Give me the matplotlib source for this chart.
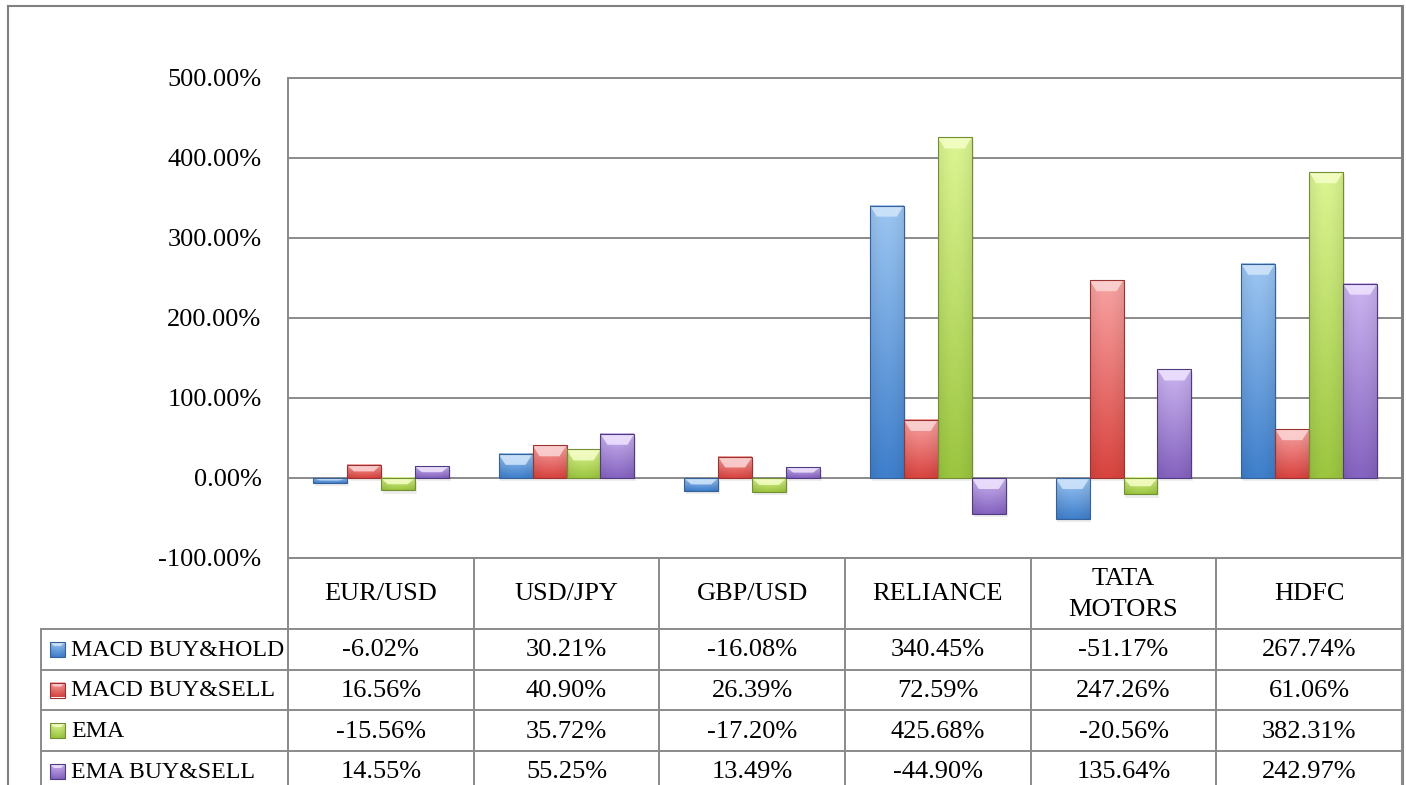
import matplotlib
matplotlib.use('Agg')
import matplotlib.pyplot as plt
import numpy as np
from matplotlib.patches import Polygon

# data
categories = ['EUR/USD', 'USD/JPY', 'GBP/USD', 'RELIANCE', 'TATA\nMOTORS', 'HDFC']
series_names = ['MACD BUY&HOLD', 'MACD BUY&SELL', 'EMA', 'EMA BUY&SELL']
macd_buy_hold = [-6.02, 30.21, -16.08, 340.45, -51.17, 267.74]
macd_buy_sell = [16.56, 40.90, 26.39, 72.59, 247.26, 61.06]
ema = [-15.56, 35.72, -17.20, 425.68, -20.56, 382.31]
ema_buy_sell = [14.55, 55.25, 13.49, -44.90, 135.64, 242.97]
yticks = [-100, 0, 100, 200, 300, 400, 500]

series = [macd_buy_hold, macd_buy_sell, ema, ema_buy_sell]

# (bevel, light, dark, edge)
colors = [
    ('#d2e6fb', '#9cc6f2', '#3f7fcc', '#35609a'),
    ('#fcd6d6', '#f8a3a3', '#d9443f', '#9a3230'),
    ('#f6ffc8', '#dcf592', '#9cc640', '#718f30'),
    ('#efe4ff', '#cbb4f0', '#8563c0', '#4f3c80'),
]

FONT = 'Liberation Serif'
W, H = 1406, 785
GRID = '#8a8a8a'


def hex2rgb(h):
    return np.array([int(h[i:i + 2], 16) / 255 for i in (1, 3, 5)])


def bevel_bar(ax, x0, x1, y_top, y_bot, cols, bh, bw, z=3):
    light, dark = hex2rgb(cols[1]), hex2rgb(cols[2])
    t = np.linspace(0, 1, 48)[:, None, None]
    s = np.linspace(0, 1, 24)[None, :, None]
    img = light * (1 - t) + dark * t
    img = img * (0.93 + 0.07 * np.sin(np.pi * s))
    img = np.clip(img, 0, 1)
    ax.imshow(img, extent=(x0, x1, y_bot, y_top), origin='upper',
              aspect='auto', zorder=z, interpolation='bilinear')
    d = 1 if y_bot > y_top else -1
    bh = min(bh, abs(y_bot - y_top) / 2)
    bw = min(bw, abs(x1 - x0) / 2)
    yi = y_top + d * bh
    ax.add_patch(Polygon([(x0, y_top), (x1, y_top), (x1 - bw, yi), (x0 + bw, yi)],
                         closed=True, facecolor=cols[0], edgecolor='none',
                         alpha=0.85, zorder=z + 0.1))
    ax.add_patch(Polygon([(x0, y_top), (x1, y_top), (x1, y_bot), (x0, y_bot)],
                         closed=True, facecolor='none', edgecolor=cols[3],
                         lw=0.8, zorder=z + 0.2))


fig = plt.figure(figsize=(W / 100, H / 100), dpi=100)
fig.patch.set_facecolor('white')

# chart area
ax_l, ax_r, ax_t, ax_b = 288, 1402, 78, 558
ax = fig.add_axes([ax_l / W, 1 - ax_b / H, (ax_r - ax_l) / W, (ax_b - ax_t) / H])
ax.set_xlim(-0.5, len(categories) - 0.5)
ax.set_ylim(-100, 500)
ax.set_yticks(yticks)
ax.set_yticklabels([f'{v:.2f}%' for v in yticks], fontsize=19, family=FONT)
ax.tick_params(axis='y', length=0, pad=19)
ax.set_xticks([])
ax.grid(axis='y', color=GRID, lw=1.4, zorder=1)
ax.set_axisbelow(True)
for sp in ['left', 'bottom', 'top']:
    ax.spines[sp].set_color(GRID)
    ax.spines[sp].set_linewidth(1.4)
ax.spines['right'].set_visible(False)

bar_w = 0.183
x = np.arange(len(categories))
px_y = (ax_b - ax_t) / 600.0
px_x = (ax_r - ax_l) / len(categories)
for k, vals in enumerate(series):
    bars = ax.bar(x + (k - 1.5) * bar_w, vals, width=bar_w, color='none', edgecolor='none')
    for p in bars.patches:
        x0 = p.get_x()
        x1 = x0 + p.get_width()
        y0 = p.get_y()
        y1 = y0 + p.get_height()
        top, bot = max(y0, y1), min(y0, y1)
        # soft shadow
        ax.fill_between([x0 + 0.01, x1 + 0.01], bot - 4, top - 4, color='#000000',
                        alpha=0.07, lw=0, zorder=2)
        bevel_bar(ax, x0, x1, top, bot, colors[k], 11 / px_y, 7 / px_x)

# table / frame overlay in pixel coords
tab = fig.add_axes([0, 0, 1, 1])
tab.set_xlim(0, W)
tab.set_ylim(H, 0)
tab.axis('off')
tab.patch.set_alpha(0)

# outer frame
tab.plot([8, 8], [6, H], color='#808080', lw=1.5)
tab.plot([8, 1402], [6, 6], color='#808080', lw=1.5)
tab.plot([1402, 1402], [6, H], color='#808080', lw=2.2)

col_edges = np.linspace(ax_l, ax_r, len(categories) + 1)
row_edges = [629, 670, 710, 751, 792]
leg_l = 41

for xe in col_edges:
    tab.plot([xe, xe], [ax_b, H], color=GRID, lw=1.4)
tab.plot([leg_l, leg_l], [row_edges[0], H], color=GRID, lw=1.4)
for ye in row_edges[:-1]:
    tab.plot([leg_l, ax_r], [ye, ye], color=GRID, lw=1.4)

# header
for i, c in enumerate(categories):
    cx = (col_edges[i] + col_edges[i + 1]) / 2
    tab.text(cx, (ax_b + row_edges[0]) / 2 + 1, c, ha='center', va='center',
             fontsize=19, family=FONT, linespacing=1.5)

# rows
for k, (name, vals) in enumerate(zip(series_names, series)):
    cy = (row_edges[k] + row_edges[k + 1]) / 2
    bevel_bar(tab, 50, 65, cy - 7.5, cy + 7.5, colors[k], 4, 4, z=3)
    tab.text(71, cy + 1, name, ha='left', va='center', fontsize=17.2, family=FONT)
    for i, v in enumerate(vals):
        cx = (col_edges[i] + col_edges[i + 1]) / 2
        tab.text(cx, cy + 1, f'{v:.2f}%', ha='center', va='center',
                 fontsize=19, family=FONT)

fig.savefig('out.png', dpi=100)
